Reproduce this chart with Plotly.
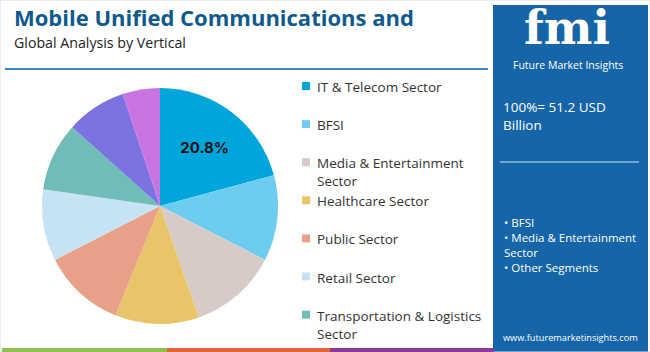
import plotly.graph_objects as go

# ---- data ----
sectors = [
    "IT & Telecom Sector",
    "BFSI",
    "Media & Entertainment<br>Sector",
    "Healthcare Sector",
    "Public Sector",
    "Retail Sector",
    "Transportation & Logistics<br>Sector",
    "Manufacturing Sector",
    "Others",
]
shares = [20.8, 11.75, 12.1, 11.5, 11.3, 9.8, 9.4, 8.25, 5.1]
colors = ["#00a5dc", "#6dcdf0", "#d6cbc7", "#e9c56a", "#e8a188",
          "#c6e3f3", "#6fbdb6", "#7b73e1", "#c874e3"]
panel_bullets = ["BFSI", "Media & Entertainment<br>Sector", "Other Segments"]
total_text = "100%= 51.2 USD<br>Billion"

W, H = 650, 352
def px(x):
    return x / W
def py(y):
    return 1 - y / H

labels_text = [f"{shares[0]:.1f}%"] + [""] * (len(shares) - 1)

fig = go.Figure()
cx, cy, r = 160, 206, 118
fig.add_trace(go.Pie(
    labels=[s.replace("<br>", " ") for s in sectors],
    values=shares,
    text=labels_text,
    textinfo="text",
    textposition="inside",
    insidetextorientation="horizontal",
    textfont=dict(family="Inter", size=15, color="#111111", weight="bold"),
    marker=dict(colors=colors, line=dict(width=0)),
    sort=False,
    direction="clockwise",
    rotation=0,
    hoverinfo="label+percent",
    domain=dict(x=[px(cx - r), px(cx + r)], y=[py(cy + r), py(cy - r)]),
    showlegend=False,
))

shapes = []
annotations = []

# outer frame
shapes.append(dict(type="rect", xref="paper", yref="paper", x0=0, x1=1, y0=0, y1=1,
                   line=dict(color="#dcdcdc", width=1), fillcolor="rgba(0,0,0,0)"))
# title rule
shapes.append(dict(type="line", xref="paper", yref="paper", x0=px(5), x1=px(488),
                   y0=py(69), y1=py(69), line=dict(color="#3f86c4", width=2)))
# bottom colour bars
for x0, x1, c in [(2, 167, "#8cc04f"), (167, 330, "#e3663a"), (330, 494, "#8a3a99")]:
    shapes.append(dict(type="rect", xref="paper", yref="paper", x0=px(x0), x1=px(x1),
                       y0=0, y1=py(348), line=dict(width=0), fillcolor=c))
# right panel
panel = "#1565a8"
shapes.append(dict(type="rect", xref="paper", yref="paper", x0=px(493), x1=px(648),
                   y0=0, y1=py(5), line=dict(width=0), fillcolor=panel, layer="below"))
# panel divider
shapes.append(dict(type="line", xref="paper", yref="paper", x0=px(500), x1=px(639),
                   y0=py(162), y1=py(162), line=dict(color="#8dbbe4", width=1.5)))

# title/subtitle
annotations.append(dict(text="<b>Mobile Unified Communications and</b>", x=px(12), y=py(16.5),
                        xref="paper", yref="paper", xanchor="left", yanchor="middle",
                        showarrow=False, font=dict(family="Open Sans", size=22, color="#0e5a8f")))
annotations.append(dict(text="Global Analysis by Vertical", x=px(12), y=py(42),
                        xref="paper", yref="paper", xanchor="left", yanchor="middle",
                        showarrow=False, font=dict(family="Open Sans", size=14.2, color="#222222")))

# custom legend (clipped like the reference)
leg_y0, leg_step = 86, 38.1
for i, (name, c) in enumerate(zip(sectors, colors)):
    yc = leg_y0 + i * leg_step
    if yc > 330:
        break
    shapes.append(dict(type="rect", xref="paper", yref="paper", x0=px(302), x1=px(310),
                       y0=py(yc + 4), y1=py(yc - 4), line=dict(width=0), fillcolor=c))
    annotations.append(dict(text=name, x=px(315), y=py(yc - 10), xref="paper", yref="paper",
                            xanchor="left", yanchor="top", align="left", showarrow=False,
                            font=dict(family="Open Sans", size=13.5, color="#333333")))

# logo (approximation)
annotations.append(dict(text="<b>fmi</b>", x=px(567), y=py(28), xref="paper", yref="paper",
                        xanchor="center", yanchor="middle", showarrow=False,
                        font=dict(family="DejaVu Serif", size=46, color="white")))
for yy in [17, 23, 29, 35, 41]:
    shapes.append(dict(type="line", xref="paper", yref="paper", x0=px(508), x1=px(628),
                       y0=py(yy), y1=py(yy), line=dict(color=panel, width=1)))
annotations.append(dict(text="Future Market Insights", x=px(568), y=py(65), xref="paper",
                        yref="paper", xanchor="center", yanchor="middle", showarrow=False,
                        font=dict(family="Open Sans", size=10.5, color="white")))

annotations.append(dict(text=total_text, x=px(501), y=py(96), xref="paper", yref="paper",
                        xanchor="left", yanchor="top", align="left", showarrow=False,
                        font=dict(family="Open Sans", size=13.5, color="white")))
annotations.append(dict(text="<br>".join("• " + b for b in panel_bullets), x=px(502), y=py(213),
                        xref="paper", yref="paper", xanchor="left", yanchor="top", align="left",
                        showarrow=False, font=dict(family="Open Sans", size=11.5, color="white")))
annotations.append(dict(text="www.futuremarketinsights.com", x=px(570), y=py(337), xref="paper",
                        yref="paper", xanchor="center", yanchor="middle", showarrow=False,
                        font=dict(family="Open Sans", size=9.2, color="white")))

fig.update_layout(
    width=W, height=H,
    margin=dict(l=0, r=0, t=0, b=0),
    paper_bgcolor="white", plot_bgcolor="white",
    shapes=shapes, annotations=annotations,
    showlegend=False,
)
fig.write_html("out.html")
